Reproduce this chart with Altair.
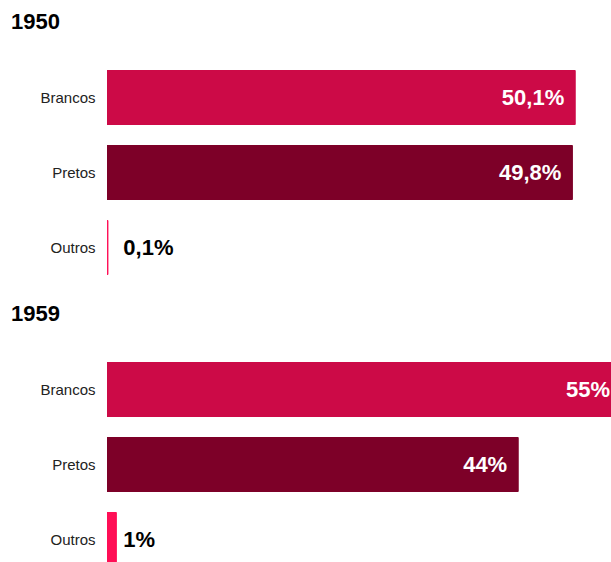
import altair as alt
import pandas as pd

categories = ["Brancos", "Pretos", "Outros"]
values_1950 = [50.1, 49.8, 0.1]
values_1959 = [55, 44, 1]
labels_1950 = ["50,1%", "49,8%", "0,1%"]
labels_1959 = ["55%", "44%", "1%"]
colors = ["#CC0A47", "#7D0028", "#FF0F56"]

FONT = "Liberation Sans"
X_MAX = 53.93  # visible part of the axis; the 55% bar runs past the edge


def panel(year, values, labels):
    df = pd.DataFrame({"cat": categories, "value": values, "label": labels})
    y = alt.Y(
        "cat:N", sort=categories, title=None,
        scale=alt.Scale(paddingInner=0.28, paddingOuter=0.14),
        axis=alt.Axis(domain=False, ticks=False, labelPadding=12,
                      labelFontSize=15, labelColor="#222", labelFont=FONT),
    )
    xs = alt.Scale(domain=[0, X_MAX], nice=False, zero=True)
    x = alt.X("value:Q", axis=None, scale=xs)
    cscale = alt.Scale(domain=categories, range=colors)
    bars = alt.Chart(df).mark_bar(clip=True, strokeWidth=1).encode(
        x=x, y=y,
        color=alt.Color("cat:N", scale=cscale, legend=None),
        stroke=alt.Stroke("cat:N", scale=cscale, legend=None),
    )
    inside = alt.Chart(df).transform_filter("datum.value >= 5").mark_text(
        align="right", baseline="middle", dx=-11, font=FONT, fontSize=22,
        fontWeight="bold", color="white",
    ).encode(x=x, y=y, text="label:N")
    outside = alt.Chart(df).transform_filter("datum.value < 5").transform_calculate(
        lx="max(datum.value, 1)"
    ).mark_text(
        align="left", baseline="middle", dx=7, font=FONT, fontSize=22,
        fontWeight="bold", color="black",
    ).encode(x=alt.X("lx:Q", axis=None, scale=xs), y=y, text="label:N")
    return alt.layer(bars, inside, outside).properties(
        width=504, height=225,
        title=alt.TitleParams(year, anchor="start", frame="group", dx=-96, fontSize=22,
                              font=FONT, fontWeight="bold", color="black", offset=26),
    )


chart = alt.vconcat(
    panel("1950", values_1950, labels_1950),
    panel("1959", values_1959, labels_1959),
    spacing=18,
).properties(
    padding={"left": 11, "top": 11, "right": 0, "bottom": 0}
).configure_view(stroke=None)

chart.save("out.html", embed_options={"renderer": "svg", "actions": False})
